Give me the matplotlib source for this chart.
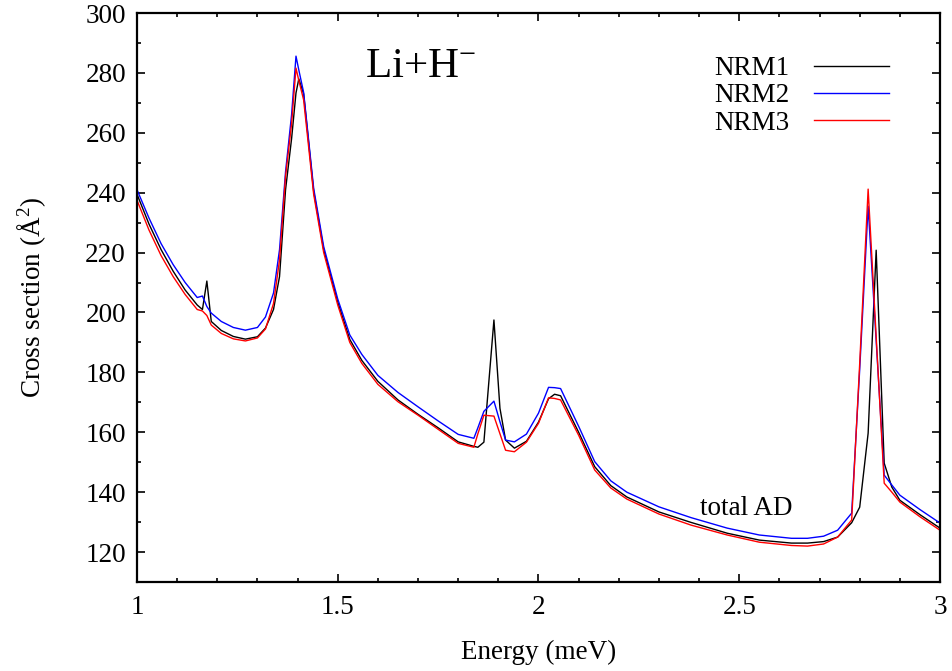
import matplotlib
matplotlib.use("Agg")
import matplotlib.pyplot as plt
from matplotlib.ticker import MultipleLocator, FormatStrFormatter

plt.rcParams['font.family'] = ['Liberation Serif', 'DejaVu Serif']
plt.rcParams['mathtext.fontset'] = 'custom'
plt.rcParams['mathtext.rm'] = 'Liberation Serif'
plt.rcParams['mathtext.it'] = 'Liberation Serif:italic'

# Energy grid (meV)
energia = [1.00, 1.03, 1.06, 1.09, 1.12, 1.15, 1.163, 1.174, 1.185, 1.21,
           1.24, 1.27, 1.30, 1.32, 1.34, 1.355, 1.37, 1.385, 1.396, 1.403,
           1.415, 1.44, 1.465, 1.50, 1.53, 1.56, 1.60, 1.65, 1.70, 1.75,
           1.80, 1.839, 1.849, 1.864, 1.889, 1.904, 1.918, 1.94, 1.97, 2.00,
           2.025, 2.04, 2.055, 2.10, 2.14, 2.18, 2.22, 2.30, 2.38, 2.47,
           2.55, 2.63, 2.67, 2.71, 2.745, 2.78, 2.80, 2.821, 2.841, 2.861,
           2.88, 2.90, 2.95, 3.00]

nrm1 = [239.5, 229.5, 221.0, 213.8, 207.5, 202.5, 201.0, 210.5, 197.0, 194.0,
        192.0, 191.1, 191.9, 194.8, 201.0, 212.0, 241.0, 258.0, 273.3, 278.0,
        273.0, 240.5, 221.0, 203.5, 191.0, 184.0, 177.0, 170.8, 166.0, 161.5,
        156.8, 155.3, 155.0, 156.7, 197.5, 168.0, 157.4, 154.7, 157.0, 163.4,
        171.2, 172.7, 172.2, 160.0, 148.5, 142.2, 138.4, 133.4, 129.9, 126.3,
        124.0, 123.0, 123.0, 123.5, 125.0, 129.8, 135.0, 159.7, 220.8, 149.7,
        141.7, 137.3, 132.5, 128.0]

nrm2 = [241.0, 231.5, 223.0, 216.0, 210.0, 205.0, 205.5, 202.0, 199.8, 197.0,
        195.0, 194.1, 195.0, 198.5, 206.5, 221.0, 247.0, 266.0, 285.6, 281.0,
        273.5, 241.5, 222.0, 204.5, 192.5, 186.0, 179.0, 173.3, 168.5, 163.8,
        159.3, 158.0, 161.5, 167.0, 170.4, 163.5, 157.4, 156.8, 159.4, 166.4,
        175.0, 174.9, 174.6, 162.0, 150.2, 143.8, 140.0, 135.1, 131.5, 128.0,
        125.7, 124.6, 124.6, 125.3, 127.3, 133.0, 181.0, 235.5, 190.6, 145.7,
        142.4, 139.0, 134.2, 129.7]

nrm3 = [237.5, 227.5, 219.0, 212.0, 206.0, 201.0, 200.5, 199.0, 195.8, 193.0,
        191.2, 190.5, 191.5, 194.5, 203.0, 217.5, 245.5, 263.0, 281.6, 277.5,
        271.0, 239.5, 220.0, 202.5, 190.0, 183.0, 176.0, 170.2, 165.7, 161.0,
        156.3, 155.0, 159.5, 165.7, 165.4, 159.5, 154.0, 153.5, 156.7, 163.0,
        171.5, 171.3, 170.8, 159.0, 147.4, 141.4, 137.7, 132.7, 129.0, 125.7,
        123.3, 122.2, 122.0, 122.7, 125.0, 130.7, 183.0, 241.2, 192.0, 143.0,
        140.0, 136.7, 131.8, 127.3]

fs = 19.5

fig = plt.figure(figsize=(9.52, 6.71), dpi=100)
ax = fig.add_axes([0.1439, 0.1326, 0.8435, 0.848])

ax.plot(energia, nrm1, color='black', lw=1.0, label='NRM1')
ax.plot(energia, nrm2, color='#0000ff', lw=1.0, label='NRM2')
ax.plot(energia, nrm3, color='#ff0000', lw=1.0, label='NRM3')

ax.set_xlim(1, 3)
ax.set_ylim(110, 300)
ax.xaxis.set_major_locator(MultipleLocator(0.5))
ax.xaxis.set_minor_locator(MultipleLocator(0.1))
ax.yaxis.set_major_locator(MultipleLocator(20))
ax.yaxis.set_minor_locator(MultipleLocator(10))
ax.xaxis.set_major_formatter(FormatStrFormatter('%g'))
ax.tick_params(which='both', direction='in', top=True, right=True,
               labelsize=fs, width=1.2)
ax.tick_params(which='major', length=6)
ax.tick_params(axis='x', which='major', pad=9)
ax.tick_params(axis='y', which='major', pad=8)
ax.tick_params(which='minor', length=3)
for s in ax.spines.values():
    s.set_linewidth(1.6)

ax.set_xlabel('Energy (meV)', fontsize=fs, labelpad=15)
ax.set_ylabel('Cross section (Å$^{2}$)', fontsize=fs, labelpad=27)

ax.text(0.284, 0.8875, 'Li+H$^{-}$', transform=ax.transAxes, fontsize=31,
        ha='left', va='baseline')
ax.text(2.402, 132.3, 'total AD', fontsize=fs, ha='left', va='baseline')

ax.legend(loc='upper right', bbox_to_anchor=(0.936, 0.924), frameon=False,
          markerfirst=False, fontsize=fs, handlelength=2.74,
          handletextpad=0.93, labelspacing=0.08, borderpad=0, borderaxespad=0)

fig.savefig('out.png', dpi=100)
